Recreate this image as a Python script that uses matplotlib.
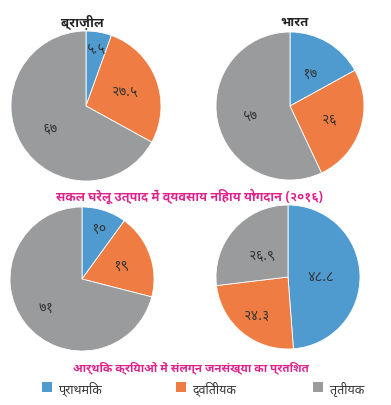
import matplotlib
matplotlib.use("Agg")
import numpy as np
import matplotlib.pyplot as plt
from matplotlib import font_manager as fm
from matplotlib.ft2font import FT2Font
from matplotlib.patches import Rectangle

# ---------------- data ----------------
chart_titles = ["ब्राज़ील", "भारत"]
gdp_brazil = [5.5, 27.5, 67]
gdp_india = [17, 26, 57]
gdp_brazil_labels = ["५.५", "२७.५", "६७"]
gdp_india_labels = ["१७", "२६", "५७"]
pop_brazil = [10, 19, 71]
pop_india = [48.8, 24.3, 26.9]
pop_brazil_labels = ["१०", "१९", "७१"]
pop_india_labels = ["४८.८", "२४.३", "२६.९"]
sectors = ["प्राथमिक", "द्वितीयक", "तृतीयक"]
title_gdp = "सकल घरेलू उत्पाद में व्यवसाय निहाय योगदान (२०१६)"
title_pop = "आर्थिक क्रियाओं में संलग्न जनसंख्या का प्रतिशत"

colors = ["#4f9bd0", "#ef7d43", "#999b9c"]

# ---------------- font search ----------------
cands = []
for f in fm.fontManager.ttflist:
    try:
        cm = FT2Font(f.fname).get_charmap()
        if 0x0915 in cm and 0x0967 in cm:
            cands.append(f)
    except Exception:
        pass


def score(f):
    n = f.name.lower()
    s = 0
    if "mono" in n or "unifont" in n or "code" in n:
        s += 100
    for i, key in enumerate(["noto sans devanagari", "mukta", "hind", "lohit",
                             "devanagari", "gargi", "kalimati", "freesans",
                             "freeserif"]):
        if key in n:
            s += i
            break
    else:
        s += 50
    return s


cands.sort(key=score)
deva_family = cands[0].name if cands else None
families = ([deva_family] if deva_family else []) + ["DejaVu Sans"]
plt.rcParams["font.family"] = families

W, H = 391, 406
fig = plt.figure(figsize=(W / 100, H / 100), dpi=100)
fig.patch.set_facecolor("white")


def pie_at(cx, cy, r, values, labels, dists):
    ax = fig.add_axes([(cx - r) / W, (H - cy - r) / H, 2 * r / W, 2 * r / H])
    wedges, _ = ax.pie(values, colors=colors, startangle=90, counterclock=False,
                       wedgeprops=dict(edgecolor="white", linewidth=0.6))
    for w, lab, d in zip(wedges, labels, dists):
        ang = np.deg2rad((w.theta1 + w.theta2) / 2)
        ax.text(d * np.cos(ang), d * np.sin(ang), lab, ha="center", va="center",
                fontsize=10, color="#333333")
    ax.set_xlim(-1, 1)
    ax.set_ylim(-1, 1)
    ax.set_aspect("equal")
    ax.axis("off")
    return ax


pie_at(86, 107, 75, gdp_brazil, gdp_brazil_labels, [0.78, 0.55, 0.56])
pie_at(290, 107, 74, gdp_india, gdp_india_labels, [0.52, 0.56, 0.55])
pie_at(82, 280, 72, pop_brazil, pop_brazil_labels, [0.75, 0.57, 0.63])
pie_at(288, 278, 72, pop_india, pop_india_labels, [0.45, 0.68, 0.47])

fig.text(82 / W, 1 - 22 / H, chart_titles[0], ha="center", va="center",
         fontsize=9.5, fontweight="bold", color="#222222")
fig.text(295 / W, 1 - 22 / H, chart_titles[1], ha="center", va="center",
         fontsize=9.5, fontweight="bold", color="#222222")


def fit_text(x, y, s, maxw, **kw):
    t = fig.text(x, y, s, **kw)
    fig.canvas.draw()
    bb = t.get_window_extent()
    if bb.width > maxw:
        t.set_fontsize(t.get_fontsize() * maxw / bb.width)
    return t


fit_text(190 / W, 1 - 196 / H, title_gdp, 266, ha="center", va="center",
         fontsize=10.5, fontweight="bold", color="#e0218a")
fit_text(191 / W, 1 - 368 / H, title_pop, 234, ha="center", va="center",
         fontsize=10.5, fontweight="bold", color="#e0218a")

leg_x = [42, 176, 313]
for x, lab, c in zip(leg_x, sectors, colors):
    fig.patches.append(Rectangle((x / W, 1 - 393 / H), 10 / W, 10 / H,
                                 transform=fig.transFigure, facecolor=c,
                                 edgecolor="none"))
    fig.text((x + 17) / W, 1 - 389 / H, lab, ha="left", va="center",
             fontsize=9, color="#333333")

fig.savefig("out.png", dpi=100, facecolor="white")
